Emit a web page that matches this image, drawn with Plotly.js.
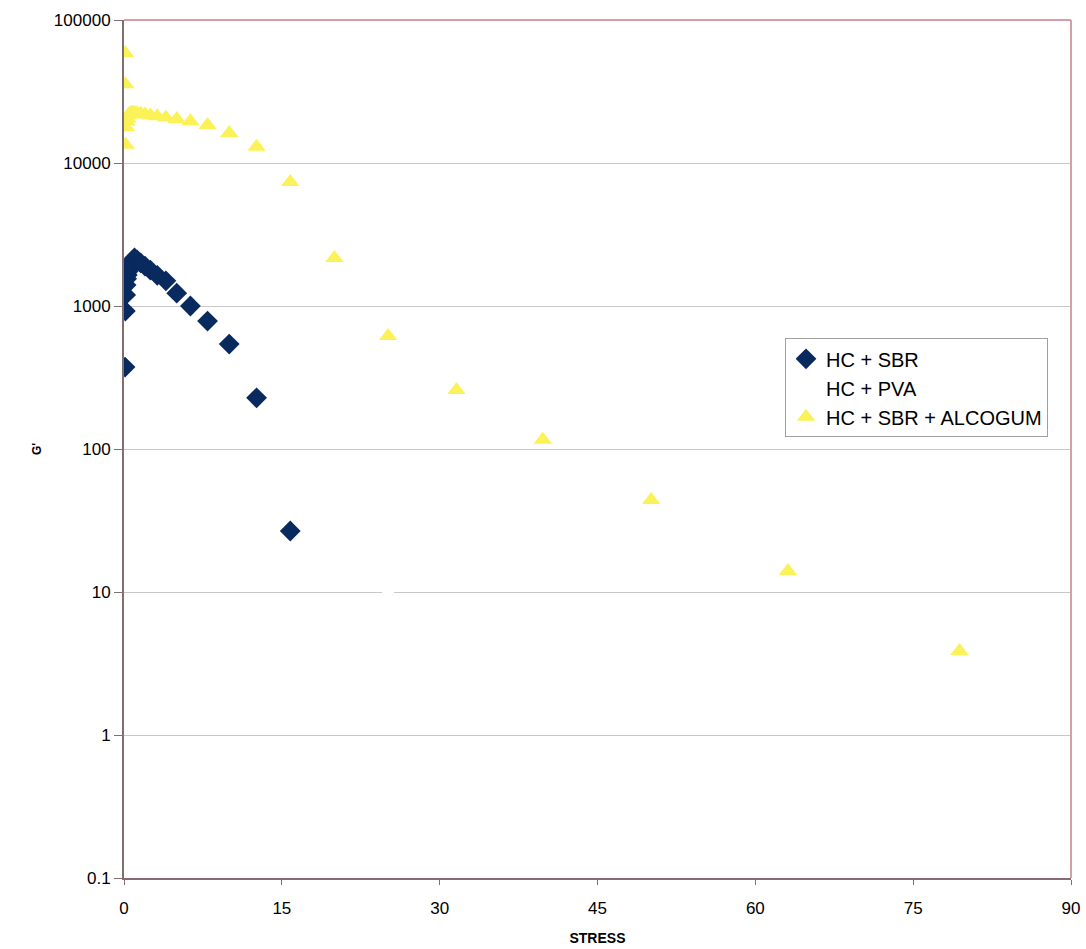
<!DOCTYPE html>
<html>
<head>
<meta charset="utf-8">
<script src="https://cdn.plot.ly/plotly-3.0.1.min.js"></script>
<style>body{margin:0;background:#fff;} #chart{width:1086px;height:949px;}</style>
</head>
<body>
<div id="chart"></div>
<script>
// HC + SBR
const sbrStress = [0.1, 0.126, 0.158, 0.2, 0.251, 0.316, 0.398, 0.501, 0.631, 0.794, 1.0, 1.26, 1.58, 2.0, 2.51, 3.16, 3.98, 5.01, 6.31, 7.94, 10.0, 12.6, 15.8];
const sbrG = [374, 922, 1195, 1400, 1550, 1650, 1750, 1850, 1950, 2080, 2170, 2090, 2000, 1900, 1780, 1640, 1500, 1230, 1000, 785, 542, 228, 26.7];
// HC + PVA (white markers)
const pvaStress = [0.1, 0.126, 0.158, 0.2, 0.251, 25.1];
const pvaG = [3100, 3700, 4500, 5400, 6300, 10];
// HC + SBR + ALCOGUM
const algStress = [0.1, 0.126, 0.158, 0.2, 0.251, 0.316, 0.398, 0.501, 0.631, 0.794, 1.0, 1.26, 1.58, 2.0, 2.51, 3.16, 3.98, 5.01, 6.31, 7.94, 10.0, 12.6, 15.8, 20.0, 25.1, 31.6, 39.8, 50.1, 63.1, 79.4];
const algG = [58700, 35600, 13400, 17800, 19500, 20500, 21500, 22000, 22400, 22500, 22500, 22300, 22100, 21800, 21500, 21200, 20800, 20300, 19600, 18450, 16200, 13000, 7360, 2170, 617, 259, 116, 44, 14.0, 3.87];
const yTickVals = [0.1, 1, 10, 100, 1000, 10000, 100000];
const yTickText = ["0.1", "1", "10", "100", "1000", "10000", "100000"];
const xTickVals = [0, 15, 30, 45, 60, 75, 90];

const traces = [
  {x: sbrStress, y: sbrG, name: 'HC + SBR', mode: 'markers', type: 'scatter',
   marker: {symbol: 'diamond', size: 16, color: '#082a5e'}},
  {x: pvaStress, y: pvaG, name: 'HC + PVA', mode: 'markers', type: 'scatter',
   marker: {symbol: 'square', size: 12, color: '#ffffff'}},
  {x: algStress, y: algG, name: 'HC + SBR + ALCOGUM', mode: 'markers', type: 'scatter',
   marker: {symbol: 'triangle-up', size: 16, color: '#fbf257'}}
];

const layout = {
  width: 1086, height: 949,
  margin: {l: 124, r: 15, t: 20, b: 71},
  paper_bgcolor: '#ffffff', plot_bgcolor: '#ffffff',
  font: {family: 'Liberation Sans, Arial, sans-serif', size: 17, color: '#000'},
  showlegend: true,
  legend: {x: 0.698, y: 0.629, xanchor: 'left', yanchor: 'top',
           bgcolor: '#ffffff', bordercolor: '#a0a0a0', borderwidth: 1,
           font: {size: 20, color: '#000'}, tracegroupgap: 4, itemwidth: 30},
  xaxis: {range: [0, 90], tickvals: xTickVals, ticks: 'outside', ticklen: 5,
          tickcolor: '#8a6a72', showgrid: false, zeroline: false,
          showline: true, linecolor: '#8a6a72', linewidth: 2,
          tickfont: {size: 17}, layer: 'below traces', ticklabelstandoff: 9,
          title: {text: 'STRESS', font: {size: 14, color: '#000', family: 'Liberation Sans, Arial, sans-serif', weight: 'bold'}, standoff: 16}},
  yaxis: {type: 'log', range: [-1, 5], tickvals: yTickVals, ticktext: yTickText,
          ticks: 'outside', ticklen: 8, tickcolor: '#806f70',
          showgrid: true, gridcolor: '#c8c8c8', gridwidth: 1, zeroline: false,
          showline: true, linecolor: '#806f70', linewidth: 2,
          tickfont: {size: 17}, layer: 'below traces',
          title: {text: "G'", font: {size: 12, color: '#000', family: 'Liberation Sans, Arial, sans-serif', weight: 'bold'}, standoff: 10}},
  shapes: [
    {type: 'line', xref: 'paper', yref: 'paper', x0: 0, x1: 1, y0: 1, y1: 1, line: {color: '#d4a0a8', width: 2}},
    {type: 'line', xref: 'paper', yref: 'paper', x0: 1, x1: 1, y0: 0, y1: 1, line: {color: '#d4a0a8', width: 2}}
  ]
};

Plotly.newPlot('chart', traces, layout, {displayModeBar: false, staticPlot: true});
</script>
</body>
</html>
